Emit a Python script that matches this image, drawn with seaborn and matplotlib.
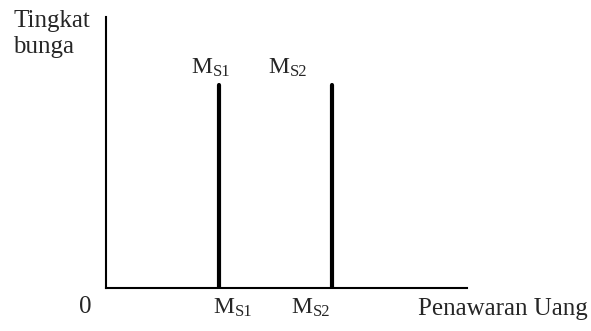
import matplotlib
matplotlib.use("Agg")
import matplotlib.pyplot as plt
import seaborn as sns
import pandas as pd

# data
supply_labels = ["S1", "S2"]
supply_x = [1.0, 2.0]
supply_top = [3.0, 3.0]
x_max = 3.2
y_max = 4.0
y_axis_label = ["Tingkat", "bunga"]
x_axis_label = "Penawaran Uang"
origin_label = "0"

sns.set_theme(style="white")
plt.rcParams["font.family"] = ["Liberation Serif", "DejaVu Serif"]

rows = []
for lab, xv, top in zip(supply_labels, supply_x, supply_top):
    rows.append({"line": lab, "x": xv, "y": 0.0})
    rows.append({"line": lab, "x": xv, "y": top})
df = pd.DataFrame(rows)

fig = plt.figure(figsize=(5.91, 3.31), dpi=100)
ax = fig.add_axes([106/591, 1-288/331, (467-106)/591, (288-17)/331])

sns.lineplot(data=df, x="x", y="y", units="line", estimator=None,
             color="black", lw=3, sort=False, ax=ax, legend=False)

ax.set_xlim(0, x_max)
ax.set_ylim(0, y_max)
ax.set_xticks([])
ax.set_yticks([])
ax.set_xlabel("")
ax.set_ylabel("")
for s in ["top", "right"]:
    ax.spines[s].set_visible(False)
for s in ["left", "bottom"]:
    ax.spines[s].set_color("black")
    ax.spines[s].set_linewidth(1.5)

FS = 18
FS_M = 17
SUB = 12
PX = 0.72  # px -> pt


def ms_label(xd, ycoords, dx_px, dy_px, sub):
    ax.annotate("M", xy=(xd, ycoords[1]), xycoords=("data", ycoords[0]),
                xytext=(dx_px*PX, dy_px*PX), textcoords="offset points",
                fontsize=FS_M, ha="left", va="baseline", annotation_clip=False)
    ax.annotate(sub, xy=(xd, ycoords[1]), xycoords=("data", ycoords[0]),
                xytext=((dx_px+21)*PX, (dy_px-3.5)*PX), textcoords="offset points",
                fontsize=SUB, ha="left", va="baseline", annotation_clip=False)


for lab, xv, top in zip(supply_labels, supply_x, supply_top):
    if lab == "S1":
        ms_label(xv, ("axes fraction", 0), -5, -25, lab)
        ms_label(xv, ("data", top), -27, 12, lab)
    else:
        ms_label(xv, ("axes fraction", 0), -40, -25, lab)
        ms_label(xv, ("data", top), -63, 12, lab)

fig.text(85/591, 1-313/331, origin_label, fontsize=FS, ha="center", va="baseline")
fig.text(418/591, 1-315/331, x_axis_label, fontsize=FS, ha="left", va="baseline")
fig.text(13/591, 1-26.5/331, y_axis_label[0], fontsize=FS, ha="left", va="baseline")
fig.text(13/591, 1-53/331, y_axis_label[1], fontsize=FS, ha="left", va="baseline")

fig.savefig("out.png", dpi=100)
